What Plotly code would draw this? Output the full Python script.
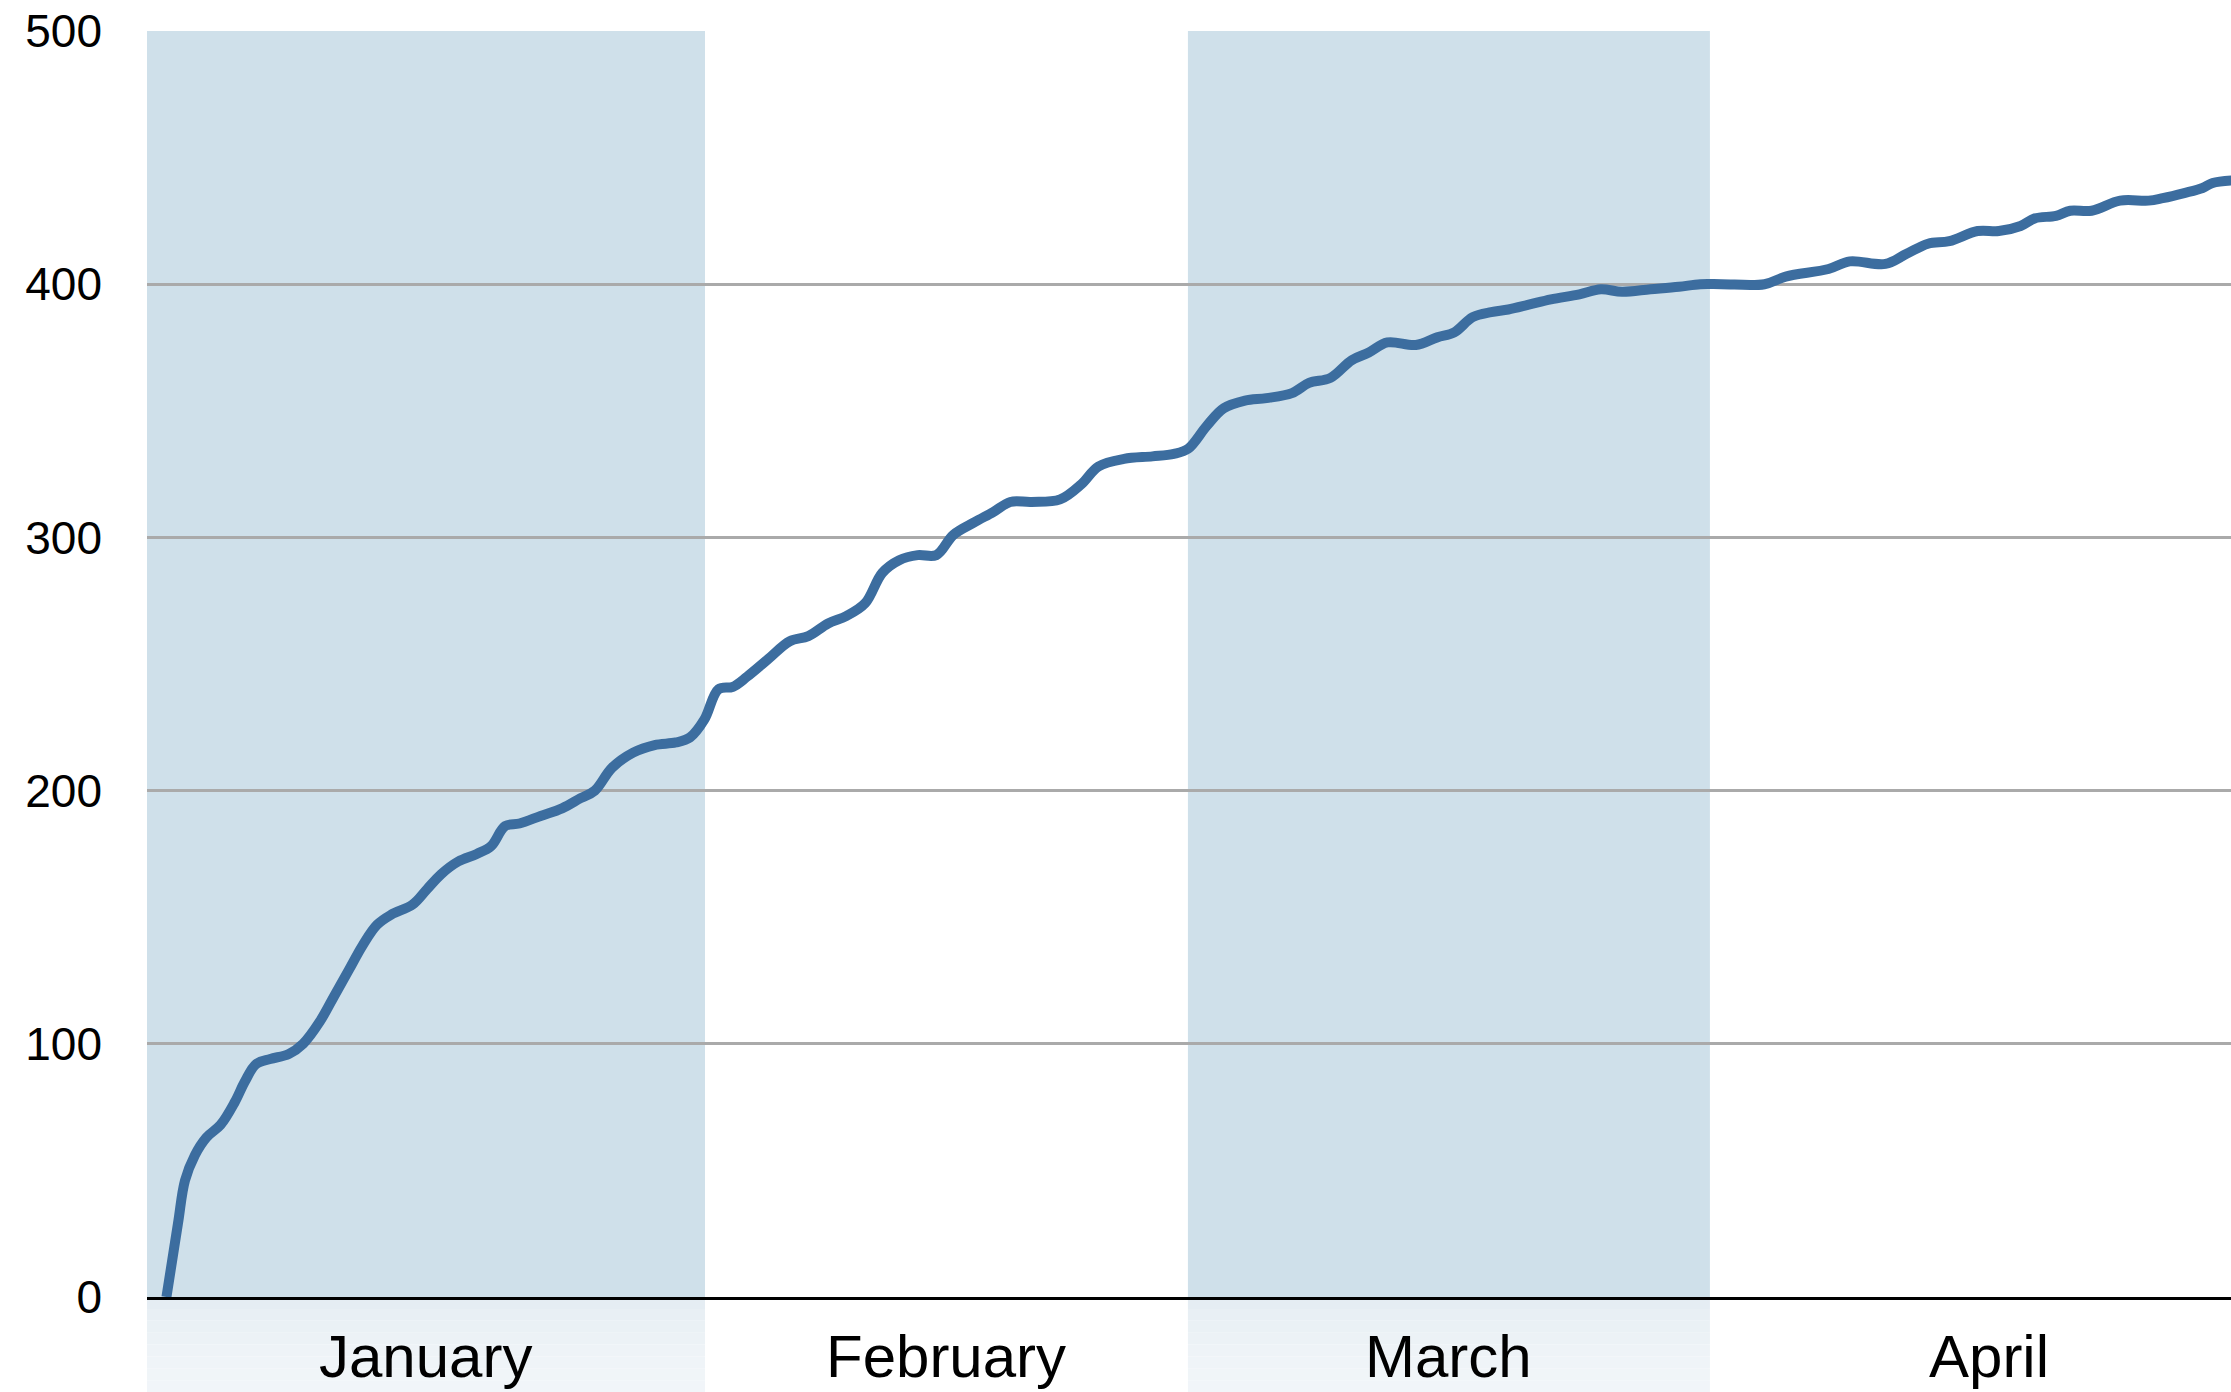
import plotly.graph_objects as go

# ---- data ----
days = [1.08, 1.72, 2.11, 2.66, 3.30, 4.09, 4.88, 5.43, 6.06, 6.85, 7.88, 8.67, 9.62,
        10.41, 11.20, 11.99, 12.78, 13.57, 14.76, 15.55, 16.34, 17.29, 18.32, 19.11,
        19.90, 20.69, 21.87, 23.06, 24.09, 24.88, 25.83, 27.01, 28.20, 29.38, 30.17,
        30.96, 31.75, 32.55, 33.34, 34.52, 35.71, 36.74, 37.84, 38.87, 39.90, 40.85,
        41.79, 42.82, 43.85, 44.80, 45.98, 47.01, 47.96, 49.14, 50.73, 51.91, 52.86,
        54.28, 55.86, 57.05, 57.84, 58.87, 59.82, 61.00, 62.19, 63.61, 64.56, 65.75,
        66.93, 67.88, 68.91, 70.49, 71.68, 72.63, 73.65, 74.68, 75.63, 76.82, 78.00,
        79.58, 80.77, 81.95, 83.53, 85.11, 86.30, 87.48, 89.86, 91.04, 93.42, 94.60,
        96.58, 97.76, 98.95, 100.13, 101.71, 102.88, 104.09, 104.88, 106.06, 106.85,
        108.04, 109.62, 111.20, 111.99, 113.18, 114.20, 114.76, 115.80]
values = [0, 29, 46, 56, 63, 68, 77, 85, 92, 94, 96, 100, 109,
          119, 129, 139, 147, 151, 155, 161, 167, 172, 175, 178,
          186, 187, 190, 193, 197, 200, 209, 215, 218, 219, 221,
          228, 240, 241, 245, 252, 259, 261, 266, 269, 274, 286,
          291, 293, 293, 301, 306, 310, 314, 314, 315, 321, 328,
          331, 332, 333, 335, 344, 351, 354, 355, 357, 361, 363,
          370, 373, 377, 376, 379, 381, 387, 389, 390, 392, 394,
          396, 398, 397, 398, 399, 400, 400, 400, 403, 406, 409,
          408, 412, 416, 417, 421, 421, 423, 426, 427, 429,
          429, 433, 433, 434, 436, 438, 440, 441]

months = ["January", "February", "March", "April"]
month_edges = [0, 31, 57.83, 86.83, 117.8]
shaded = [True, False, True, False]
y_ticks = [0, 100, 200, 300, 400, 500]

# ---- style ----
W, H = 2231, 1392
ML, MR, MT, MB = 147, 0, 31, 95
plot_h = H - MT - MB
BAND = "#cfe0ea"
LINE = "#3c6d9f"
grad = ["#e5edf3", "#e8eff4", "#eaf1f5", "#ecf2f6", "#eef3f7", "#eff4f8", "#f0f5f8", "#f1f5f9"]
FONT = "Liberation Sans, Arial, sans-serif"

fig = go.Figure()
fig.add_trace(go.Scatter(x=days, y=values, mode="lines",
                         line=dict(color=LINE, width=10, shape="spline", smoothing=1.0),
                         hoverinfo="skip", showlegend=False))

shapes = []
annotations = []
below_h = MB / plot_h
for i, m in enumerate(months):
    x0, x1 = month_edges[i], month_edges[i + 1]
    if shaded[i]:
        shapes.append(dict(type="rect", xref="x", yref="paper", x0=x0, x1=x1, y0=0, y1=1,
                           fillcolor=BAND, line_width=0, layer="below"))
        n = len(grad)
        for k, c in enumerate(grad):
            shapes.append(dict(type="rect", xref="x", yref="paper", x0=x0, x1=x1,
                               y0=-below_h * (k + 1) / n, y1=-below_h * k / n,
                               fillcolor=c, line_width=0, layer="below"))
    annotations.append(dict(x=(x0 + x1) / 2, xref="x", y=-(1356 - (H - MB)) / plot_h, yref="paper",
                            text=m, showarrow=False, xanchor="center", yanchor="middle",
                            font=dict(family=FONT, size=60, color="#000")))

fig.update_layout(
    width=W, height=H,
    margin=dict(l=ML, r=MR, t=MT, b=MB, pad=0),
    paper_bgcolor="white", plot_bgcolor="white",
    shapes=shapes, annotations=annotations,
    xaxis=dict(range=[0, 115.78], showgrid=False, zeroline=False, showticklabels=False,
               ticks="", showline=True, linecolor="#000", linewidth=3, fixedrange=True),
    yaxis=dict(range=[0, 500], tickvals=y_ticks, ticktext=[str(v) for v in y_ticks],
               showgrid=True, gridcolor="#aaaaaa", gridwidth=2.5, zeroline=False,
               showline=False, ticks="", ticklabelstandoff=44,
               tickfont=dict(family=FONT, size=46, color="#000"),
               fixedrange=True),
)

fig.write_html("out.html",
               config={"displayModeBar": False},
               post_script="document.body.style.margin='0';document.body.style.overflow='hidden';")
